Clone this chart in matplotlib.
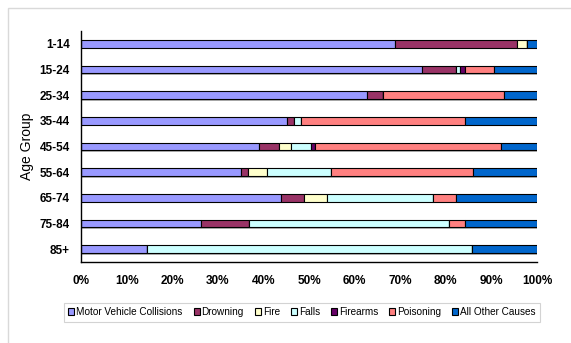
import numpy as np
import matplotlib
matplotlib.use("Agg")
import matplotlib.pyplot as plt
from matplotlib.patches import Rectangle

plt.rcParams['font.family'] = ['Liberation Sans', 'DejaVu Sans']

age_groups = ["1-14", "15-24", "25-34", "35-44", "45-54", "55-64", "65-74", "75-84", "85+"]
causes = ["Motor Vehicle Collisions", "Drowning", "Fire", "Falls", "Firearms", "Poisoning", "All Other Causes"]
colors = ["#9999FF", "#993366", "#FFFFCC", "#CCFFFF", "#660066", "#FF8080", "#0066CC"]

motor_vehicle = [68.9, 74.7, 62.7, 45.2, 39.1, 35.1, 43.8, 26.3, 14.4]
drowning = [26.7, 7.5, 3.6, 1.6, 4.3, 1.5, 5.0, 10.6, 0.0]
fire = [2.2, 0.0, 0.0, 0.0, 2.6, 4.2, 5.1, 0.0, 0.0]
falls = [0.0, 1.0, 0.0, 1.5, 4.4, 14.0, 23.2, 43.8, 71.3]
firearms = [0.0, 1.0, 0.0, 0.0, 0.9, 0.0, 0.0, 0.0, 0.0]
poisoning = [0.0, 6.3, 26.4, 36.0, 40.8, 31.1, 5.1, 3.6, 0.0]
other = [2.2, 9.5, 7.3, 15.7, 7.9, 14.1, 17.8, 15.7, 14.3]

series = [motor_vehicle, drowning, fire, falls, firearms, poisoning, other]

fig = plt.figure(figsize=(5.71, 3.43), dpi=100)
ax = fig.add_axes([81 / 571, 1 - 262 / 343, 456 / 571, 231 / 343])

# light chart-area border
fig.patches.append(Rectangle((8 / 571, -0.1), 1.2, 1.1 - 8 / 343, transform=fig.transFigure,
                             fill=False, edgecolor="#d9d9d9", linewidth=1.0))

y = np.arange(len(age_groups))
left = np.zeros(len(age_groups))
for name, vals, c in zip(causes, series, colors):
    vals = np.array(vals)
    # drop shadow
    ax.barh(y + 0.06, vals, left=left + 0.3, height=0.3, color="#b0b0b0", edgecolor="none", zorder=1)
    left += vals
left = np.zeros(len(age_groups))
for name, vals, c in zip(causes, series, colors):
    vals = np.array(vals)
    ax.barh(y, vals, left=left, height=0.3, color=c, edgecolor="black", linewidth=0.8,
            label=name, zorder=2)
    left += vals

ax.set_xlim(0, 100)
ax.set_ylim(len(age_groups) - 0.5, -0.5)
ax.set_yticks(y)
ax.set_yticklabels(age_groups, fontsize=8.5, fontweight="bold")
ax.set_xticks(np.arange(0, 101, 10))
ax.set_xticklabels([f"{v}%" for v in range(0, 101, 10)], fontsize=8.5, fontweight="bold")
ax.tick_params(axis="x", length=0, pad=9)
ax.tick_params(axis="y", length=0, pad=8)
ax.spines["top"].set_visible(False)
ax.spines["right"].set_visible(False)
ax.spines["left"].set_linewidth(1.0)
ax.spines["bottom"].set_linewidth(1.0)
ax.set_ylabel("Age Group", fontsize=10, labelpad=4)

leg = fig.legend(loc="center", bbox_to_anchor=(302 / 571, 1 - 312 / 343), ncol=7, fontsize=7.2,
                 frameon=True, fancybox=False, edgecolor="#c8c8c8", handlelength=0.6,
                 handleheight=0.6, handletextpad=0.2, columnspacing=1.1, borderpad=0.45)
leg.get_frame().set_linewidth(0.8)

plt.savefig("out.png", dpi=100)
